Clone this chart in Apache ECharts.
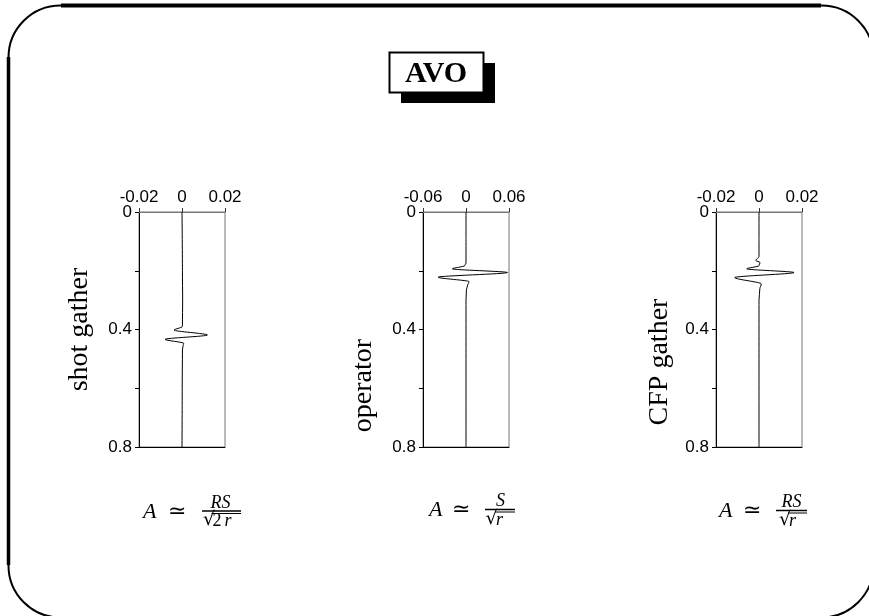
<!DOCTYPE html>
<html><head><meta charset="utf-8">
<script src="https://cdn.jsdelivr.net/npm/echarts@6/dist/echarts.min.js"></script>
<style>html,body{margin:0;padding:0;background:#fff}#c{width:869px;height:616px}</style>
</head><body><div id="c"></div>
<script>
// ---- data ----
const panelNames = ['shot gather', 'operator', 'CFP gather'];
const xTickLabels1 = ['-0.02', '0', '0.02'];
const xTickLabels2 = ['-0.06', '0', '0.06'];
const yTickLabels = ['0', '0.4', '0.8'];
const xRange1 = [-0.02, 0.02];
const xRange2 = [-0.06, 0.06];
const xRange3 = [-0.02, 0.02];
// shot gather trace (time s, amplitude)
const time1 = [0, 0.2, 0.3, 0.385, 0.3905, 0.4017, 0.4188, 0.4335, 0.447, 0.455, 0.47, 0.6, 0.8];
const amp1  = [0, 0.0002, 0.0003, 0.0002, 0.0001, -0.0037, 0.0118, -0.0079, 0.0008, 0.0005, 0.0002, 0.0001, 0];
// operator trace
const time2 = [0, 0.1, 0.174, 0.183, 0.1935, 0.206, 0.222, 0.237, 0.2515, 0.265, 0.3, 0.8];
const amp2  = [0, 0, 0, -0.002, -0.019, 0.0578, -0.039, 0.0042, 0.002, 0.0006, 0, 0];
// CFP gather trace
const time3 = [0, 0.1, 0.1515, 0.165, 0.172, 0.183, 0.1935, 0.206, 0.223, 0.245, 0.26, 0.3, 0.8];
const amp3  = [0, 0, 0, -0.0015, 0.0005, 0, -0.0057, 0.0163, -0.0113, 0.0011, 0.0004, 0, 0];

const traces = [[time1, amp1], [time2, amp2], [time3, amp3]];
const xRanges = [xRange1, xRange2, xRange3];
const gridLefts = [139, 423, 716];
const namePads = [[0, 0, 0, 0], [0, 112, 0, 0], [0, 65, 0, 0]];
const nameGaps = [45, 45, 42];

const chart = echarts.init(document.getElementById('c'), null, {renderer: 'canvas'});

const grids = [], xAxes = [], yAxes = [], series = [];
gridLefts.forEach((l, i) => {
  grids.push({left: l, top: 212, width: 86, height: 235, show: true, borderColor: '#777', borderWidth: 1, backgroundColor: 'transparent'});
  const rng = xRanges[i];
  xAxes.push({
    gridIndex: i, type: 'value', position: 'top', min: rng[0], max: rng[1], interval: rng[1],
    axisLine: {show: true, onZero: false, lineStyle: {color: '#777', width: 1}},
    axisTick: {show: true, inside: false, length: 4, lineStyle: {color: '#333'}},
    axisLabel: {show: true, margin: 6, color: '#000', fontSize: 17, fontFamily: 'Liberation Sans',
      formatter: v => (i === 1 ? xTickLabels2 : xTickLabels1)[Math.round(v / rng[1]) + 1]},
    splitLine: {show: false}
  });
  xAxes.push({
    gridIndex: i, type: 'value', position: 'bottom', min: rng[0], max: rng[1],
    axisLine: {show: true, onZero: false, lineStyle: {color: '#000', width: 1}},
    axisTick: {show: false}, axisLabel: {show: false}, splitLine: {show: false}
  });
  yAxes.push({
    gridIndex: i, type: 'value', inverse: true, min: 0, max: 0.8, interval: 0.2,
    name: panelNames[i], nameLocation: 'middle', nameRotate: 90, nameGap: nameGaps[i],
    nameTextStyle: {fontFamily: 'Liberation Serif', fontSize: 28, color: '#000', padding: namePads[i]},
    axisLine: {show: true, onZero: false, lineStyle: {color: '#000', width: 1}},
    axisTick: {show: true, inside: false, length: 4, lineStyle: {color: '#000'}},
    axisLabel: {show: true, margin: 7, color: '#000', fontSize: 17, fontFamily: 'Liberation Sans',
      formatter: v => { const k = Math.round(v / 0.4 * 100) / 100; return Number.isInteger(k) ? yTickLabels[k] : ''; }},
    splitLine: {show: false}
  });
  const [tt, aa] = traces[i];
  series.push({
    type: 'line', xAxisIndex: i * 2, yAxisIndex: i,
    data: tt.map((t, j) => [aa[j], t]),
    showSymbol: false, smooth: 0.3, smoothMonotone: 'y',
    lineStyle: {color: '#000', width: 1}, silent: true
  });
});

// formula helper (text layout only)
const serif = 'Liberation Serif';
function T(text, x, y, font, align, valign) {
  return {type: 'text', style: {text: text, x: x, y: y, font: font, fill: '#000', textAlign: align || 'left', textVerticalAlign: valign || 'middle'}};
}
function L(x1, y1, x2, y2, w) {
  return {type: 'line', shape: {x1: x1, y1: y1, x2: x2, y2: y2}, style: {stroke: '#000', lineWidth: w}};
}
function formula(f) {
  const out = [
    T('A', f.ax, f.bar + 1, 'italic 22px "' + serif + '"'),
    T('\u2243', f.ex, f.bar + 1, '22px "DejaVu Sans"'),
    T(f.num, f.numX, f.bar - 8, 'italic 18px "' + serif + '"', 'center'),
    L(f.b0, f.bar, f.b1, f.bar, 1.5),
    T('\u221A', f.sx, f.rad + 7, '19px "DejaVu Serif"'),
    L(f.r0, f.rad, f.b1, f.rad, 1)
  ];
  let x = f.r0 + 1;
  f.radParts.forEach(p => {
    out.push(T(p[0], x, f.rad + 8, (p[1] ? 'italic ' : '') + '18px "' + serif + '"'));
    x += p[2];
  });
  return out;
}

const graphics = [];
// outer rounded frame
graphics.push({type: 'rect', shape: {x: 8.5, y: 5.5, width: 865, height: 612, r: 52}, style: {fill: 'none', stroke: '#000', lineWidth: 2}});
graphics.push(L(61, 5.5, 821, 5.5, 4));
graphics.push(L(8.5, 57, 8.5, 565, 3.5));
// title box with shadow
graphics.push({type: 'rect', shape: {x: 401, y: 63, width: 94, height: 40}, style: {fill: '#000'}});
graphics.push({type: 'rect', shape: {x: 389.5, y: 52.5, width: 94, height: 40}, style: {fill: '#fff', stroke: '#000', lineWidth: 2}});
graphics.push(T('AVO', 436, 74, 'bold 30px "Liberation Serif"', 'center'));
// formulas
graphics.push(...formula({ax: 143, ex: 168, b0: 202, b1: 241, bar: 511, num: 'RS', numX: 220.5, sx: 203, r0: 211.5, rad: 513.5, radParts: [['2', false, 12], ['r', true, 10]]}));
graphics.push(...formula({ax: 429, ex: 452, b0: 485, b1: 515, bar: 509.5, num: 'S', numX: 500.5, sx: 485.5, r0: 495, rad: 512, radParts: [['r', true, 10]]}));
graphics.push(...formula({ax: 719, ex: 743, b0: 776, b1: 807, bar: 510.5, num: 'RS', numX: 791.5, sx: 779, r0: 788, rad: 513, radParts: [['r', true, 10]]}));

chart.setOption({
  animation: false,
  backgroundColor: '#fff',
  grid: grids, xAxis: xAxes, yAxis: yAxes, series: series,
  graphic: graphics.map(g => Object.assign({silent: true}, g))
});
</script></body></html>
